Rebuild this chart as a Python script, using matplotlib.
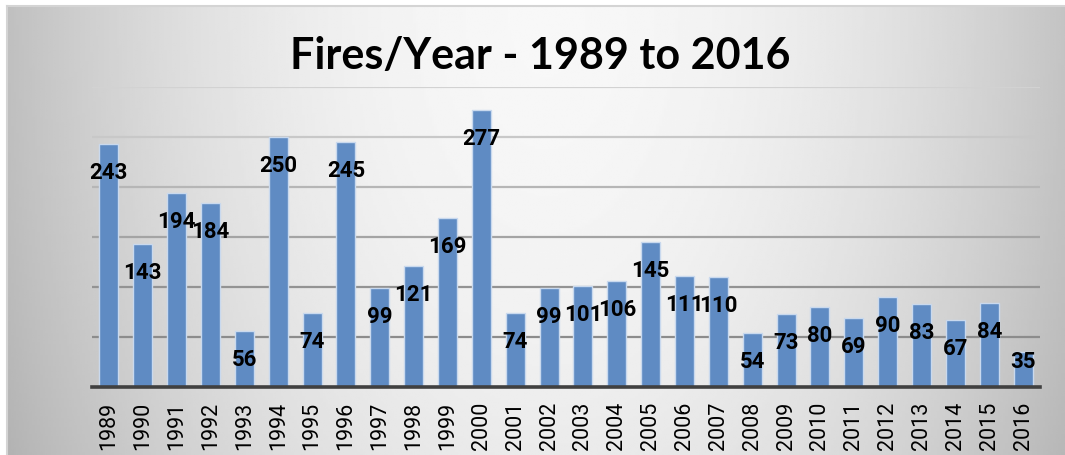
import numpy as np
import matplotlib.pyplot as plt

# Data
years = [str(y) for y in range(1989, 2017)]
fires = [243, 143, 194, 184, 56, 250, 74, 245, 99, 121, 169, 277, 74, 99,
         101, 106, 145, 111, 110, 54, 73, 80, 69, 90, 83, 67, 84, 35]

narrow = ['Roboto', 'DejaVu Sans']

fig = plt.figure(figsize=(10.65, 4.56), dpi=100)

# Background panel with soft gray gradient
bg = fig.add_axes([7 / 1065, 0, 1 - 7 / 1065, 449 / 456])
gx, gy = np.meshgrid(np.linspace(-1, 1, 400), np.linspace(0, 1, 200))
shade = 0.97 - 0.21 * (gx - 0.02) ** 2 - 0.05 * gy ** 2
bg.imshow(shade, cmap='gray', vmin=0, vmax=1, aspect='auto',
          extent=[0, 1, 0, 1], origin='upper')
bg.set_xlim(0, 1)
bg.set_ylim(0, 1)
for side in ['left', 'top']:
    bg.spines[side].set_color('#d4d4d4')
    bg.spines[side].set_linewidth(1.5)
for side in ['right', 'bottom']:
    bg.spines[side].set_visible(False)
bg.set_xticks([])
bg.set_yticks([])

ax = fig.add_axes([92 / 1065, 68 / 456, 948 / 1065, 300 / 456])
ax.patch.set_alpha(0)
x = np.arange(len(years))

# Gridlines, lighter towards the top
grid_colors = ['#8c8c8c', '#939393', '#a4a4a4', '#b6b6b6', '#c8c8c8', '#d2d2d2']
for level, c in zip(range(50, 301, 50), grid_colors):
    ax.axhline(level, color=c, linewidth=1.6, zorder=1)

ax.bar(x, fires, width=0.56, color='#5f8bc3', edgecolor='#c9d9ee',
       linewidth=1.0, zorder=2)
ax.axhline(0, color='#404040', linewidth=2.6, zorder=3, clip_on=False)

for xi, v in zip(x, fires):
    ax.text(xi, max(v - 28, 26), str(v), ha='center', va='center',
            fontsize=16, fontweight='bold', family=narrow, zorder=4)

ax.set_xlim(-0.5, 27.5)
ax.set_ylim(0, 300)
ax.set_xticks(x)
ax.set_xticklabels(years, rotation=90, fontsize=15.5, family=narrow, va='top')
ax.tick_params(axis='x', length=0, pad=10)
ax.set_yticks([])
for side in ax.spines:
    ax.spines[side].set_visible(False)

fig.text(540 / 1065, 1 - 56 / 456, 'Fires/Year - 1989 to 2016', ha='center',
         va='center', fontsize=31, fontweight='bold', family='Lato')

fig.savefig('out.png', dpi=100)
